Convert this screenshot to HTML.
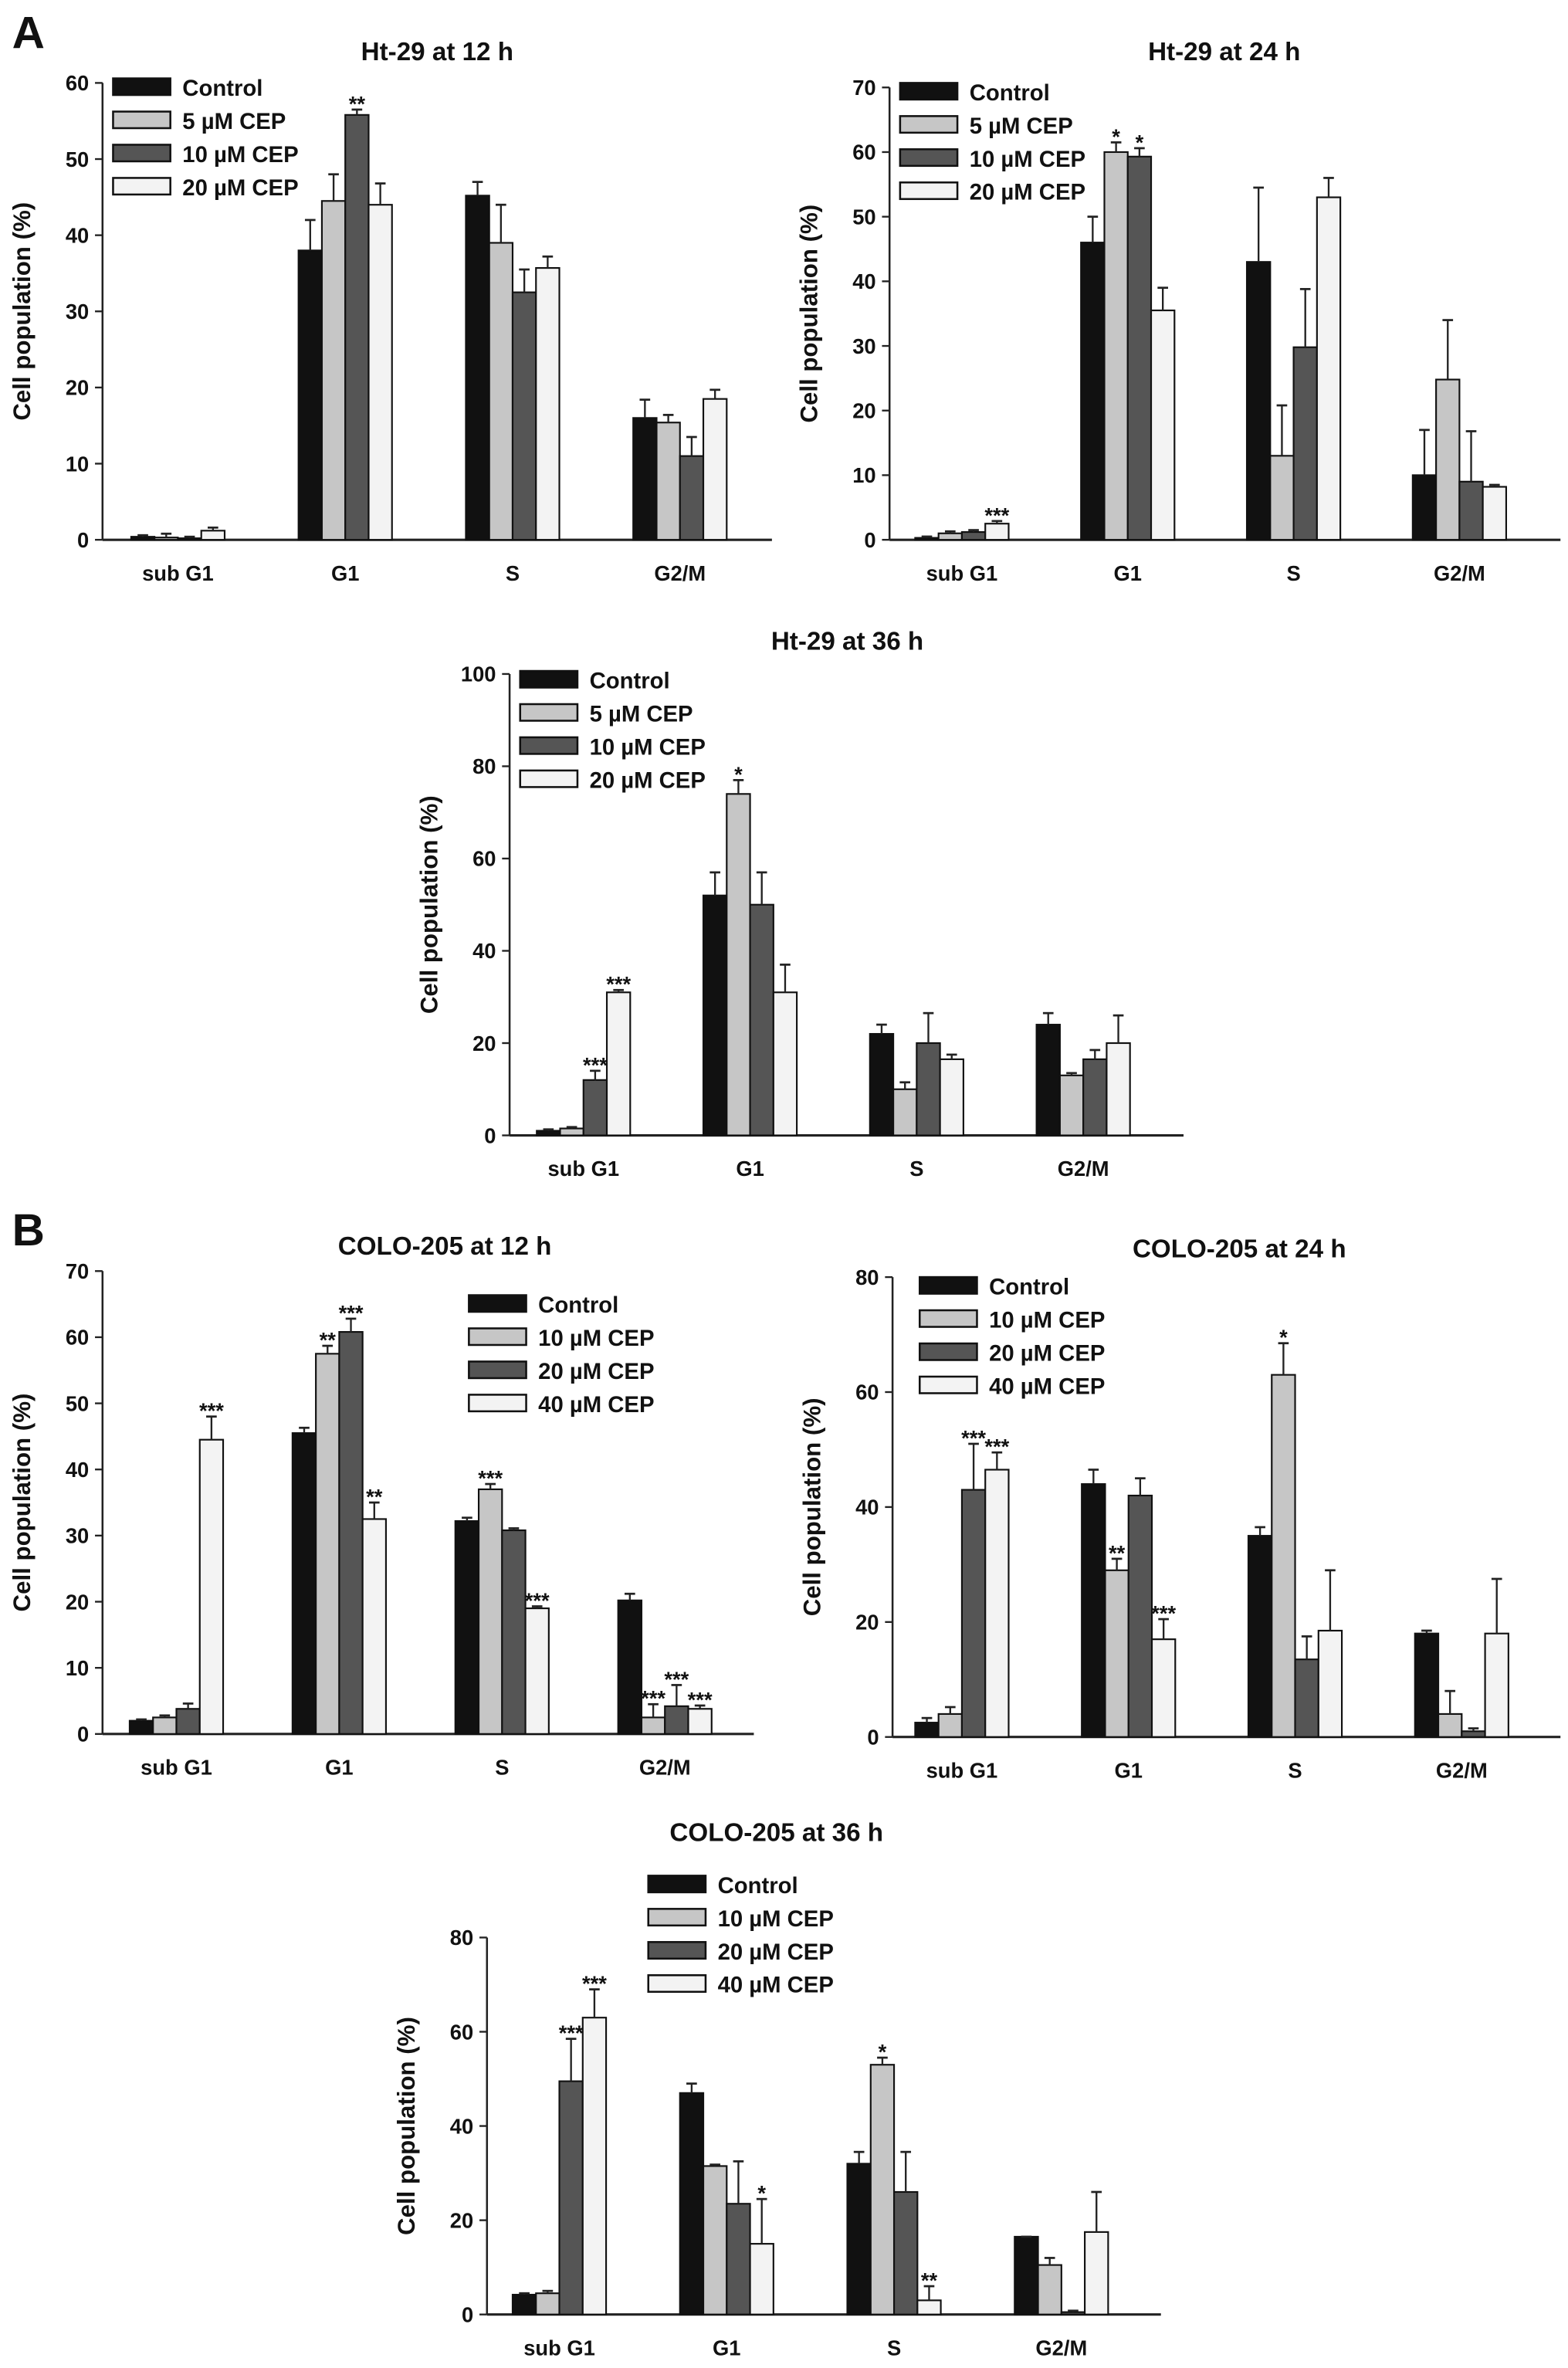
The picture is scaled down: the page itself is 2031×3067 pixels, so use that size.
<!DOCTYPE html>
<html><head><meta charset="utf-8">
<style>
html,body{margin:0;padding:0;background:#fff;}
svg{display:block;}
text{font-family:"Liberation Sans",Arial,sans-serif;font-weight:bold;fill:#111;}
</style></head>
<body>
<svg id="fig" width="2031" height="3067" viewBox="0 0 1040 1570.5" preserveAspectRatio="none" xmlns="http://www.w3.org/2000/svg">
<text x="8" y="32" font-size="30">A</text>
<text x="8" y="826" font-size="30">B</text>
</svg>
<script>
const categories = ["sub G1","G1","S","G2/M"];
const legendA = ["Control","5 \u00b5M CEP","10 \u00b5M CEP","20 \u00b5M CEP"];
const legendB = ["Control","10 \u00b5M CEP","20 \u00b5M CEP","40 \u00b5M CEP"];

// values[category][series]
const a12Values = [[0.4,0.3,0.2,1.2],[38,44.5,55.8,44],[45.2,39,32.5,35.7],[16,15.4,11,18.5]];
const a12Errors = [[0.2,0.5,0.2,0.4],[4,3.5,0.7,2.8],[1.8,5,3,1.5],[2.4,1,2.5,1.2]];
const a12Sig = [["","","",""],["","","**",""],["","","",""],["","","",""]];

const a24Values = [[0.3,1,1.2,2.5],[46,60,59.3,35.5],[43,13,29.8,53],[10,24.8,9,8.2]];
const a24Errors = [[0.2,0.3,0.3,0.4],[4,1.5,1.3,3.5],[11.5,7.8,9,3],[7,9.2,7.8,0.3]];
const a24Sig = [["","","","***"],["","*","*",""],["","","",""],["","","",""]];

const a36Values = [[1,1.5,12,31],[52,74,50,31],[22,10,20,16.5],[24,13,16.5,20]];
const a36Errors = [[0.3,0.3,2,0.5],[5,3,7,6],[2,1.5,6.5,1],[2.5,0.5,2,6]];
const a36Sig = [["","","***","***"],["","*","",""],["","","",""],["","","",""]];

const b12Values = [[2,2.5,3.8,44.5],[45.5,57.5,60.8,32.5],[32.2,37,30.8,19],[20.2,2.5,4.2,3.8]];
const b12Errors = [[0.2,0.3,0.8,3.5],[0.8,1.2,2,2.5],[0.5,0.8,0.3,0.3],[1,2,3.2,0.5]];
const b12Sig = [["","","","***"],["","**","***","**"],["","***","","***"],["","***","***","***"]];

const b24Values = [[2.5,4,43,46.5],[44,29,42,17],[35,63,13.5,18.5],[18,4,1,18]];
const b24Errors = [[0.8,1.2,8,3],[2.5,2,3,3.5],[1.5,5.5,4,10.5],[0.5,4,0.5,9.5]];
const b24Sig = [["","","***","***"],["","**","","***"],["","*","",""],["","","",""]];

const b36Values = [[4.2,4.5,49.5,63],[47,31.5,23.5,15],[32,53,26,3],[16.5,10.5,0.5,17.5]];
const b36Errors = [[0.3,0.5,9,6],[2,0.3,9,9.5],[2.5,1.5,8.5,3],[0,1.5,0.3,8.5]];
const b36Sig = [["","","***","***"],["","","","*"],["","*","","**"],["","","",""]];

const ticksA12 = [0,10,20,30,40,50,60];
const ticksA24 = [0,10,20,30,40,50,60,70];
const ticksA36 = [0,20,40,60,80,100];
const ticksB12 = [0,10,20,30,40,50,60,70];
const ticksB24 = [0,20,40,60,80];
const ticksB36 = [0,20,40,60,80];

const fills = ["#111111","#c6c6c6","#555555","#f3f3f3"];
const NS = "http://www.w3.org/2000/svg";
const svg = document.getElementById("fig");

function mk(tag, attrs, parent){
  const e = document.createElementNS(NS, tag);
  for (const k in attrs) e.setAttribute(k, attrs[k]);
  (parent||svg).appendChild(e);
  return e;
}

function panel(id, title, L){
  const g = mk("g", {});
  
  
  const ymax = L.ticks[L.ticks.length-1];
  const yScale = v => L.y0 - (v / ymax) * (L.y0 - L.yTop);
  const xCenter = i => L.cx0 + i * L.step;
  const bw = 15.5;
  // title
  const t = mk("text", {x:L.tx, y:L.ty, "font-size":17, "text-anchor":"middle", "font-weight":"bold"}, g);
  t.textContent = title;
  
  
  // axes
  const ya = mk("line", {x1:L.ax, y1:L.yTop, x2:L.ax, y2:L.y0, stroke:"#222", "stroke-width":1.3}, g);
  
  
  const xa = mk("line", {x1:L.ax, y1:L.y0, x2:L.xEnd, y2:L.y0, stroke:"#222", "stroke-width":1.6}, g);
  
  
  L.ticks.forEach(v => {
    const y = yScale(v);
    mk("line", {x1:L.ax-5, y1:y, x2:L.ax, y2:y, stroke:"#222", "stroke-width":1.2}, g);
    const tl = mk("text", {x:L.ax-9, y:y+5, "font-size":14, "text-anchor":"end"}, g);
    tl.textContent = v;
    
    
  });
  // y title
  const yt = mk("text", {x:0, y:0, "font-size":16, "text-anchor":"middle", transform:`translate(${L.ax-48},${(L.yTop+L.y0)/2}) rotate(-90)`}, g);
  yt.textContent = "Cell population (%)";
  
  
  // bars
  categories.forEach((c, i) => {
    const cx = xCenter(i);
    const xl = mk("text", {x:cx, y:L.y0+27, "font-size":14, "text-anchor":"middle"}, g);
    xl.textContent = c;
    
    
    for (let s = 0; s < 4; s++){
      const v = L.values[i][s], e = L.errors[i][s];
      const x = cx - 2*bw + s*bw;
      const y = yScale(v);
      const r = mk("rect", {x:x, y:y, width:bw, height:Math.max(L.y0-y,0.8), fill:fills[s], stroke:"#111", "stroke-width":1.1}, g);
      
      
      const ye = yScale(v + e);
      mk("line", {x1:x+bw/2, y1:y, x2:x+bw/2, y2:ye, stroke:"#222", "stroke-width":1.2}, g);
      mk("line", {x1:x+bw/2-3.5, y1:ye, x2:x+bw/2+3.5, y2:ye, stroke:"#222", "stroke-width":1.4}, g);
      const sg = L.sig[i][s];
      if (sg){
        const st = mk("text", {x:x+bw/2, y:ye+1, "font-size":14, "text-anchor":"middle"}, g);
        st.textContent = sg;
        
        
      }
    }
  });
  // legend
  L.legend.forEach((lab, s) => {
    const y = L.ly + s*22;
    const lr = mk("rect", {x:L.lx, y:y-6, width:38, height:11, fill:fills[s], stroke:"#111", "stroke-width":1.3}, g);
    
    
    const lt = mk("text", {x:L.lx+46, y:y+5.5, "font-size":15}, g);
    lt.textContent = lab;
    
    
  });
}

panel("ht29-12h", "Ht-29 at 12 h", {ax:68, yTop:55, y0:358, xEnd:512, cx0:118, step:111, tx:290, ty:40,
  ticks:ticksA12, values:a12Values, errors:a12Errors, sig:a12Sig, legend:legendA, lx:75, ly:58});
panel("ht29-24h", "Ht-29 at 24 h", {ax:590, yTop:58, y0:358, xEnd:1035, cx0:638, step:110, tx:812, ty:40,
  ticks:ticksA24, values:a24Values, errors:a24Errors, sig:a24Sig, legend:legendA, lx:597, ly:61});
panel("ht29-36h", "Ht-29 at 36 h", {ax:338, yTop:447, y0:753, xEnd:785, cx0:387, step:110.5, tx:562, ty:431,
  ticks:ticksA36, values:a36Values, errors:a36Errors, sig:a36Sig, legend:legendA, lx:345, ly:451});
panel("colo205-12h", "COLO-205 at 12 h", {ax:68, yTop:843, y0:1150, xEnd:500, cx0:117, step:108, tx:295, ty:832,
  ticks:ticksB12, values:b12Values, errors:b12Errors, sig:b12Sig, legend:legendB, lx:311, ly:865});
panel("colo205-24h", "COLO-205 at 24 h", {ax:592, yTop:847, y0:1152, xEnd:1035, cx0:638, step:110.5, tx:822, ty:834,
  ticks:ticksB24, values:b24Values, errors:b24Errors, sig:b24Sig, legend:legendB, lx:610, ly:853});
panel("colo205-36h", "COLO-205 at 36 h", {ax:323, yTop:1285, y0:1535, xEnd:770, cx0:371, step:111, tx:515, ty:1221,
  ticks:ticksB36, values:b36Values, errors:b36Errors, sig:b36Sig, legend:legendB, lx:430, ly:1250});
</script>
</body></html>
